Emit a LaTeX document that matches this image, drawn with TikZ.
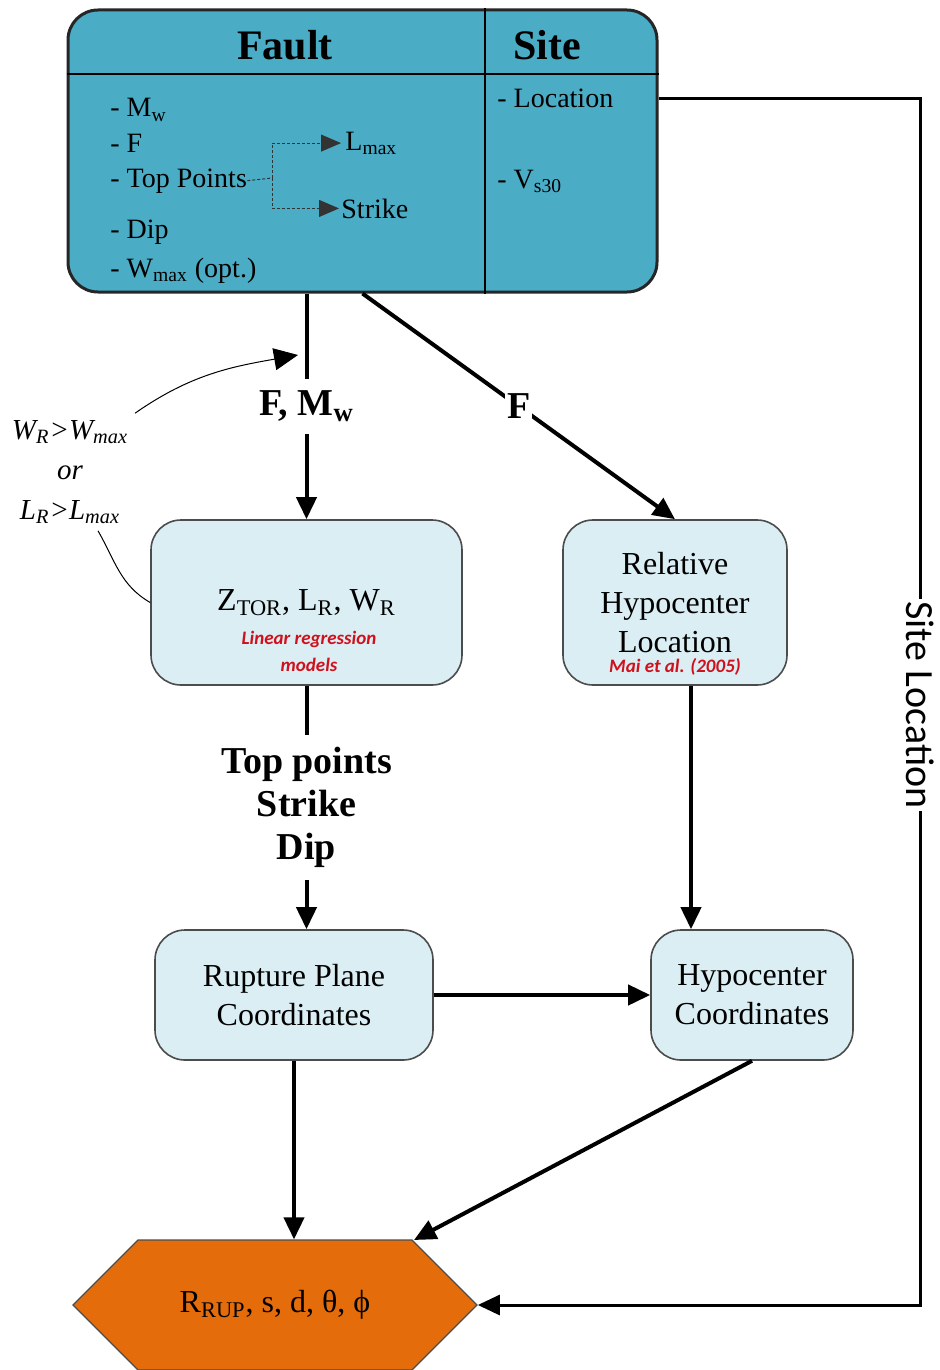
\documentclass[tikz,border=0pt]{standalone}
\usepackage{fontspec}
\setmainfont{Liberation Serif}
\newfontfamily\calib{Carlito}
\usetikzlibrary{arrows.meta,shapes.symbols}

\begin{document}
\begin{tikzpicture}[x=0.5pt, y=-0.5pt,
  box/.style={draw=black!70, line width=0.8pt, fill=lightbox, rounded corners=15pt,
    align=center, font=\fontsize{16}{19.5}\selectfont},
  flow/.style={line width=2pt, -{Triangle[length=11pt,width=10pt]}},
  lbl/.style={fill=white, inner xsep=2pt, inner ysep=6pt, align=center,
    font=\bfseries\fontsize{19}{21.5}\selectfont},
  ref/.style={text=refred, align=center, inner sep=0pt,
    font=\calib\bfseries\itshape\fontsize{9.5}{13.5}\selectfont},
  item/.style={anchor=base west, inner sep=0pt, font=\fontsize{14}{16}\selectfont},
  dashline/.style={draw=black!80, line width=0.5pt, dash pattern=on 1.5pt off 1pt}]
\definecolor{faultbox}{HTML}{4BACC6}
\definecolor{lightbox}{HTML}{DAEEF3}
\definecolor{outbox}{HTML}{E46C0A}
\definecolor{refred}{HTML}{D0101C}
\useasboundingbox (0,0) rectangle (940,1370);

% input box: fault and site
\node[draw=black!85, line width=1.5pt, fill=faultbox, rounded corners=15pt,
  minimum width=294.5pt, minimum height=141pt, inner sep=0pt] (src) at (362.5,151) {};
\coordinate (hdr) at (0,74);
\coordinate (div) at (485,0);
\draw[line width=1.2pt] (src.west |- hdr) -- (src.east |- hdr);
\draw[line width=1pt] (src.north -| div) -- (src.south -| div);
\node[font=\bfseries\fontsize{21}{24}\selectfont] (fault) at (285,45) {Fault};
\node[font=\bfseries\fontsize{21}{24}\selectfont] (site) at (547,45) {Site};

\node[item] (mw) at (110,117) {- M\textsubscript{w}};
\node[item] (ff) at (110,152) {- F};
\node[item] (tp) at (110,187) {- Top Points};
\node[item] (dip) at (110,238) {- Dip};
\node[item] (wmax) at (110,277) {- W\textsubscript{max} (opt.)};
\node[item] (lmax) at (345,150) {L\textsubscript{max}};
\node[item] (strike) at (341,218) {Strike};
\node[item] (loc) at (497,108) {- Location};
\node[item] (vs) at (497,188) {- V\textsubscript{s30}};

\coordinate (split) at (272,178);
\draw[dashline] (tp.east) -- (split);
\draw[dashline, -{Triangle[length=10pt,width=8.5pt]}, shorten >=2pt] (split) |- (lmax.west);
\draw[dashline, -{Triangle[length=10pt,width=8.5pt]}, shorten >=1pt] (split) |- (strike.west);

% process boxes
\node[box, minimum width=155.5pt, minimum height=82.5pt] (ztor) at (306.5,602.5)
  {Z\textsubscript{TOR}, L\textsubscript{R}, W\textsubscript{R}};
\node[ref] (ztorref) at (309,651) {Linear regression\\models};
\node[box, minimum width=112pt, minimum height=82.5pt] (rel) at (675,602.5)
  {Relative\\Hypocenter\\Location};
\node[ref] (relref) at (675,667) {Mai et al. (2005)};
\node[box, minimum width=139pt, minimum height=65pt] (rup) at (294,995)
  {Rupture Plane\\Coordinates};
\node[box, minimum width=101pt, minimum height=65pt] (hypo) at (752,995)
  {Hypocenter\\Coordinates};
\node[draw=black!70, line width=0.6pt, fill=outbox, shape=signal, signal to=west and east,
  signal pointer angle=90, minimum width=202pt, minimum height=65pt, inner sep=0pt,
  font=\fontsize{16}{19}\selectfont] (hex) at (275,1305)
  {R\textsubscript{RUP}, s, d, θ, ϕ};
\coordinate (hexne) at (414,1240);

% flows
\draw[flow] (src.south -| ztor.north) -- node[lbl] (fmw) {F, M\textsubscript{w}} (ztor.north);
\draw[flow] (src.south) -- node[lbl, inner sep=1pt] (flbl) {F} (rel.north);
\draw[flow] (ztor.south) -- node[lbl] (tsd) {Top points\\Strike\\Dip} (ztor.south |- rup.north);
\draw[flow] ([xshift=8pt]rel.south) -- ([xshift=8pt]rel.south |- hypo.north);
\draw[flow] (rup.east) -- (hypo.west);
\draw[flow] (rup.south) -- (rup.south |- hex.north);
\draw[flow] (hypo.south) -- (hexne);

% site location
\coordinate (sitex) at (920,705);
\draw[line width=1.5pt, -{Triangle[length=11pt,width=10pt]}] (src.east |- loc) -| (sitex) |- (hex.east);
\node[fill=white, rotate=-90, inner xsep=1pt, font=\calib\fontsize{20}{24}\selectfont] (sitelbl) at (sitex) {Site Location};

% condition for re-run
\node[align=center, font=\itshape\fontsize{14.5}{20}\selectfont] (cond) at (70,472)
  {W\textsubscript{R}>W\textsubscript{max}\\or\\L\textsubscript{R}>L\textsubscript{max}};
\coordinate (fmwin) at (298,355);
\draw[line width=0.5pt, -{Triangle[length=12pt,width=11pt]}] (cond.north east) to[out=35, in=190] (fmwin);
\draw[line width=0.5pt] ([xshift=14pt]cond.south) to[out=-60, in=150] (ztor.west);
\end{tikzpicture}
\end{document}
